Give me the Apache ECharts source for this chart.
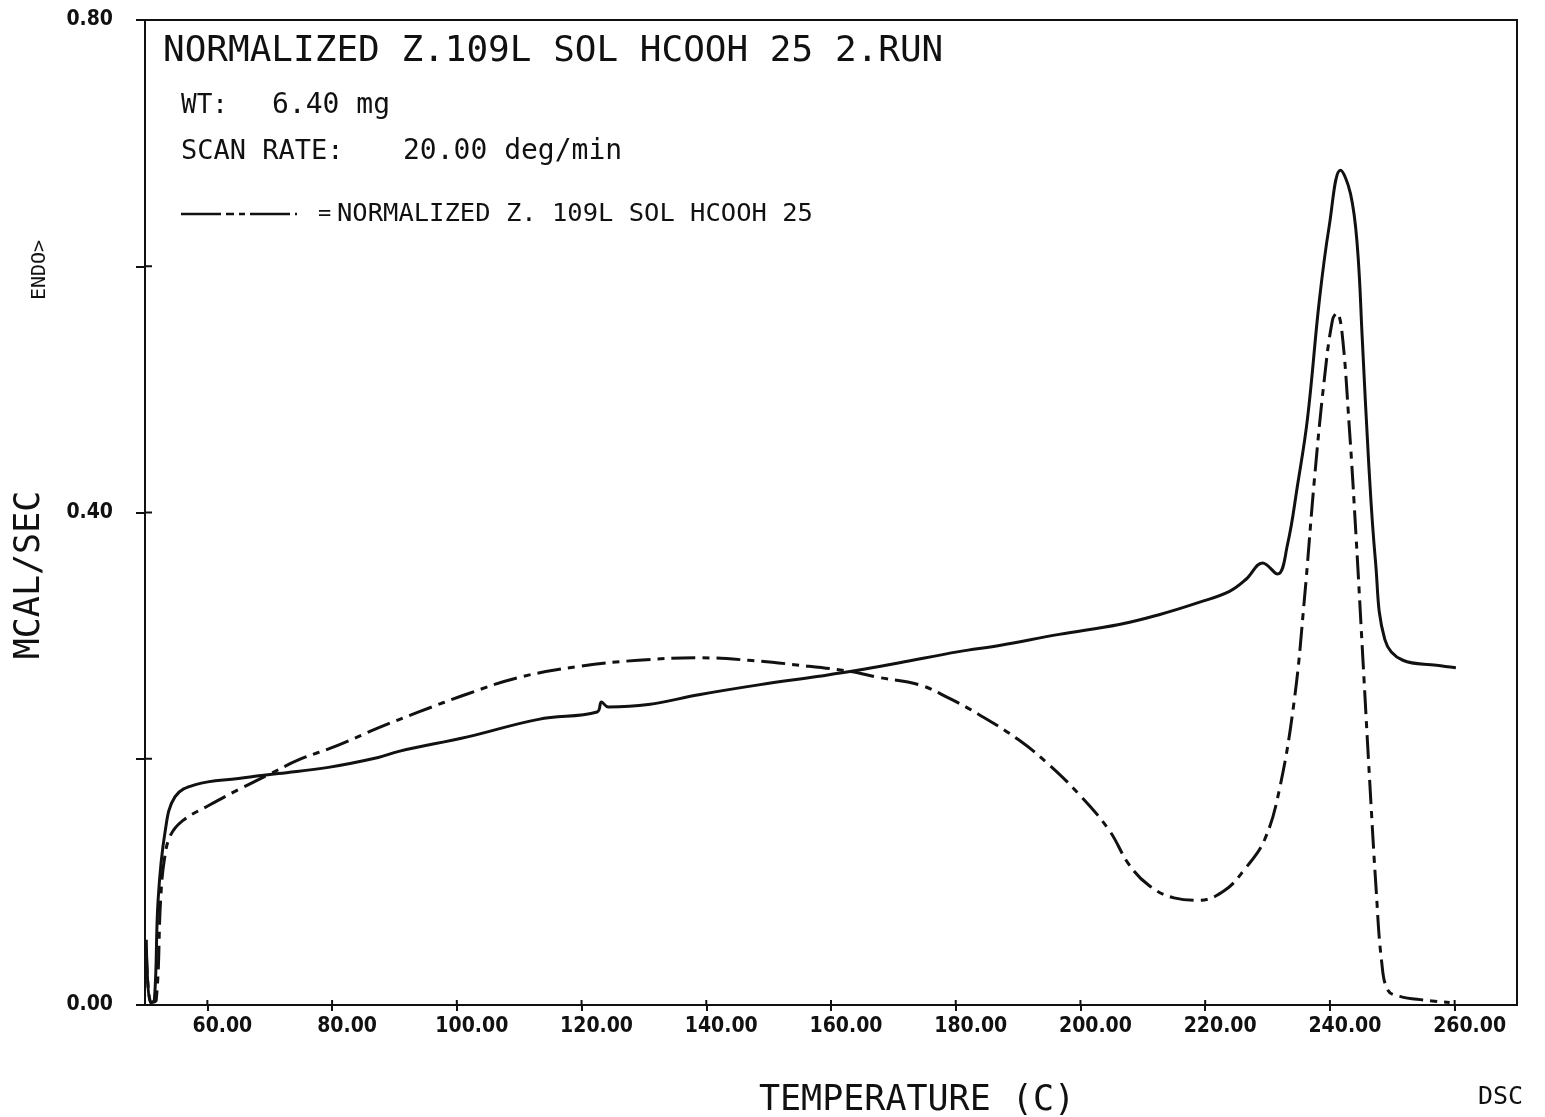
<!DOCTYPE html>
<html><head><meta charset="utf-8">
<script src="https://cdn.jsdelivr.net/npm/echarts@6/dist/echarts.min.js"></script>
<style>html,body{margin:0;padding:0;background:#fff}#c{width:1545px;height:1117px}</style>
</head><body><div id="c"></div>
<script>
// Solid curve (2. run)
const solidTemp = [50.2,50.85,51.5,52.1,53.2,54.8,58.1,65.0,71.4,79.4,87.4,90.7,101.9,113.1,122.5,123.2,124.3,130.7,138.8,148.4,158.1,164.5,171.0,180.5,187.0,196.6,206.2,212.6,219.0,223.9,226.6,229.2,231.6,233.2,234.8,236.4,238.3,239.9,241.7,243.3,244.4,245.2,246.2,247.3,248.8,251.7,257.1,260.2];
const solidMcal = [0.053,0.002,0.004,0.085,0.140,0.169,0.179,0.184,0.188,0.193,0.201,0.206,0.218,0.232,0.238,0.246,0.242,0.244,0.252,0.260,0.267,0.272,0.278,0.287,0.292,0.301,0.309,0.317,0.327,0.336,0.346,0.359,0.350,0.374,0.422,0.476,0.572,0.633,0.678,0.659,0.616,0.540,0.442,0.361,0.297,0.280,0.276,0.274];
// Dash-dot curve (NORMALIZED Z. 109L SOL HCOOH 25)
const dashTemp = [50.2,51.0,51.8,52.5,53.1,54.1,56.1,60.2,65.0,69.8,74.6,81.0,87.4,93.9,101.9,109.9,119.5,129.1,138.8,146.8,154.9,162.9,167.7,174.2,179.0,183.7,190.2,195.0,199.8,204.6,207.8,211.0,215.0,219.0,223.1,226.3,229.5,231.9,234.3,235.9,237.5,239.1,240.4,241.1,241.9,243.1,244.2,245.3,246.4,247.4,248.3,249.3,251.2,255.0,259.2];
const dashMcal = [0.045,0.002,0.004,0.085,0.118,0.138,0.150,0.162,0.175,0.187,0.199,0.211,0.225,0.238,0.253,0.266,0.275,0.280,0.282,0.280,0.276,0.271,0.266,0.260,0.249,0.236,0.215,0.195,0.171,0.142,0.114,0.097,0.087,0.085,0.093,0.110,0.134,0.175,0.248,0.329,0.426,0.508,0.556,0.562,0.548,0.470,0.380,0.280,0.180,0.095,0.035,0.012,0.007,0.004,0.002];
// Axis ticks / labels
const xTicks = [60,80,100,120,140,160,180,200,220,240,260];
const yTicks = [0,0.2,0.4,0.6,0.8];
const yLabels = [0,0.4,0.8];

const INK = '#111';
const MONO = '"DejaVu Sans Mono", "Liberation Mono", monospace';
const LAB = '"DejaVu Sans Condensed", "DejaVu Sans", sans-serif';
const DASH = [24, 7, 7, 7];

const chart = echarts.init(document.getElementById('c'), null, {renderer: 'canvas'});
const txt = (x, y, text, size, align) => ({
  type: 'text', x, y,
  style: {text, fontFamily: MONO, fontSize: size, fill: INK, textAlign: align || 'left', textVerticalAlign: 'middle'}
});

chart.setOption({
  backgroundColor: '#fff',
  animation: false,
  title: {
    text: 'NORMALIZED Z.109L SOL HCOOH 25 2.RUN',
    left: 163, top: 34, padding: 0,
    textStyle: {fontFamily: MONO, fontSize: 36, fontWeight: 'normal', color: INK}
  },
  grid: {left: 145, top: 20, width: 1372, height: 985, show: true, borderColor: INK, borderWidth: 2, containLabel: false},
  xAxis: {
    type: 'value', min: 50, max: 270, position: 'bottom',
    axisLine: {show: true, lineStyle: {color: INK, width: 2}},
    axisTick: {show: true, customValues: xTicks, length: 6, inside: false, lineStyle: {color: INK, width: 2}},
    axisLabel: {show: true, customValues: xTicks, formatter: v => v.toFixed(2), align: 'center', padding: [0, 0, 0, 30], margin: 11,
      fontFamily: LAB, fontWeight: 'bold', fontSize: 21, color: INK},
    splitLine: {show: false}
  },
  yAxis: {
    type: 'value', min: 0, max: 0.8, position: 'left',
    axisLine: {show: true, lineStyle: {color: INK, width: 2}},
    axisTick: {show: true, customValues: yTicks, length: 9, inside: false, lineStyle: {color: INK, width: 2}},
    axisLabel: {show: true, customValues: yLabels, formatter: v => v.toFixed(2), margin: 32,
      fontFamily: LAB, fontWeight: 'bold', fontSize: 21, color: INK},
    splitLine: {show: false}
  },
  series: [{
    name: '2. RUN', type: 'line',
    data: solidTemp.map((t, i) => [t, solidMcal[i]]),
    showSymbol: false, smooth: 0.4,
    lineStyle: {color: INK, width: 3}
  }, {
    name: 'NORMALIZED Z. 109L SOL HCOOH 25', type: 'line',
    data: dashTemp.map((t, i) => [t, dashMcal[i]]),
    showSymbol: false, smooth: 0.4,
    lineStyle: {color: INK, width: 3, type: DASH}
  }]
});

// inner halves of the crossing tick marks, placed through the chart's own scales
const x0 = chart.convertToPixel({xAxisIndex: 0}, 50);
const y0 = chart.convertToPixel({yAxisIndex: 0}, 0);
const innerTicks = [];
xTicks.forEach(v => {
  const px = chart.convertToPixel({xAxisIndex: 0}, v);
  innerTicks.push({type: 'line', shape: {x1: px, y1: y0, x2: px, y2: y0 - 5}, style: {stroke: INK, lineWidth: 2}});
});
yTicks.forEach(v => {
  const py = chart.convertToPixel({yAxisIndex: 0}, v);
  innerTicks.push({type: 'line', shape: {x1: x0, y1: py, x2: x0 + 7, y2: py}, style: {stroke: INK, lineWidth: 2}});
});

chart.setOption({
  graphic: [
    txt(181, 106, 'WT:', 26),
    txt(272, 106, '6.40 mg', 28),
    txt(181, 152, 'SCAN RATE:', 27),
    txt(403, 152, '20.00 deg/min', 28),
    {type: 'line', shape: {x1: 181, y1: 214, x2: 297, y2: 214},
      style: {stroke: INK, lineWidth: 2.5, lineDash: [40, 5, 8, 5, 6, 5]}},
    txt(318, 214, '=', 22),
    txt(337, 214, 'NORMALIZED Z. 109L SOL HCOOH 25', 25.5),
    txt(917, 1101, 'TEMPERATURE (C)', 35, 'center'),
    txt(1478, 1097, 'DSC', 25),
    {type: 'text', x: 30, y: 575, rotation: Math.PI / 2,
      style: {text: 'MCAL/SEC', fontFamily: MONO, fontSize: 35, fill: INK, textAlign: 'center', textVerticalAlign: 'middle'}},
    {type: 'text', x: 40, y: 270, rotation: Math.PI / 2,
      style: {text: 'ENDO>', fontFamily: MONO, fontSize: 20, fill: INK, textAlign: 'center', textVerticalAlign: 'middle'}}
  ].concat(innerTicks)
});
</script>
</body></html>
